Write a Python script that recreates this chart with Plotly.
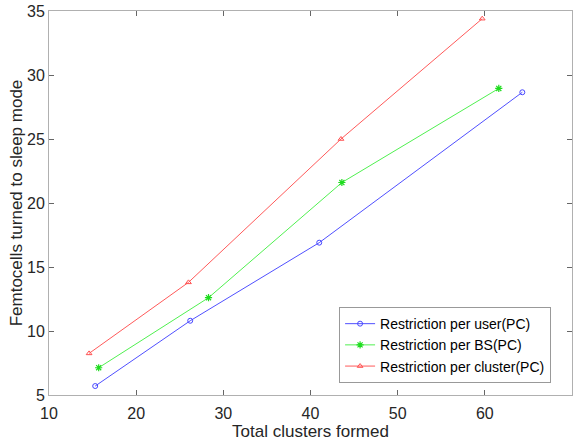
import plotly.graph_objects as go

user_x = [15.3, 26.2, 41.0, 64.3]
user_y = [5.7, 10.8, 16.9, 28.65]
bs_x = [15.7, 28.3, 43.6, 61.6]
bs_y = [7.13, 12.6, 21.6, 28.95]
cluster_x = [14.6, 26.0, 43.5, 59.7]
cluster_y = [8.25, 13.8, 25.0, 34.4]

names = ["Restriction per user(PC)", "Restriction per BS(PC)", "Restriction per cluster(PC)"]
x_ticks = [10, 20, 30, 40, 50, 60, 70]
x_labels = ["10", "20", "30", "40", "50", "60", "70\u00a0\u00a0\u00a0"]
y_ticks = [5, 10, 15, 20, 25, 30, 35]

FONT = "Liberation Sans, Arial"

fig = go.Figure()
fig.add_trace(go.Scatter(x=user_x, y=user_y, mode="lines+markers", name=names[0],
                         line=dict(color="rgb(80,80,255)", width=1),
                         marker=dict(symbol="circle-open", size=5, color="rgb(70,70,255)")))
fig.add_trace(go.Scatter(x=bs_x, y=bs_y, mode="lines+markers", name=names[1],
                         line=dict(color="rgb(80,240,80)", width=1),
                         marker=dict(symbol="asterisk-open", size=6, color="rgb(30,220,30)", line=dict(width=1.2, color="rgb(30,220,30)"))))
fig.add_trace(go.Scatter(x=cluster_x, y=cluster_y, mode="lines+markers", name=names[2],
                         line=dict(color="rgb(255,90,90)", width=1),
                         marker=dict(symbol="triangle-up-open", size=5, color="rgb(255,80,80)")))

axis_common = dict(showgrid=False, zeroline=False, showline=True, linecolor="#b0b0b0", linewidth=1,
                   mirror="ticks", ticks="inside", ticklen=5, tickcolor="#666666", automargin=False,
                   tickfont=dict(family=FONT, size=16, color="#262626"))
fig.update_xaxes(range=[10, 70], tickvals=x_ticks, ticktext=x_labels, ticklabelstandoff=4,
                 title=dict(text="Total clusters formed", font=dict(family=FONT, size=17, color="#262626"), standoff=0),
                 **axis_common)
fig.update_yaxes(range=[5, 35], tickvals=y_ticks,
                 title=dict(text="Femtocells turned to sleep mode", font=dict(family=FONT, size=17, color="#262626"), standoff=0),
                 **axis_common)
fig.update_layout(width=584, height=446, margin=dict(l=49, r=12, t=11, b=51, autoexpand=False),
                  plot_bgcolor="white", paper_bgcolor="white",
                  legend=dict(x=0.96, y=0.229, xanchor="right", yanchor="top",
                              bordercolor="#999999", borderwidth=1, bgcolor="white",
                              font=dict(family=FONT, size=14, color="#000000"),
                              tracegroupgap=0, itemwidth=30))
fig.write_html("out.html", config={"displayModeBar": False},
               post_script="document.body.style.margin='0';document.body.style.overflow='hidden';")
